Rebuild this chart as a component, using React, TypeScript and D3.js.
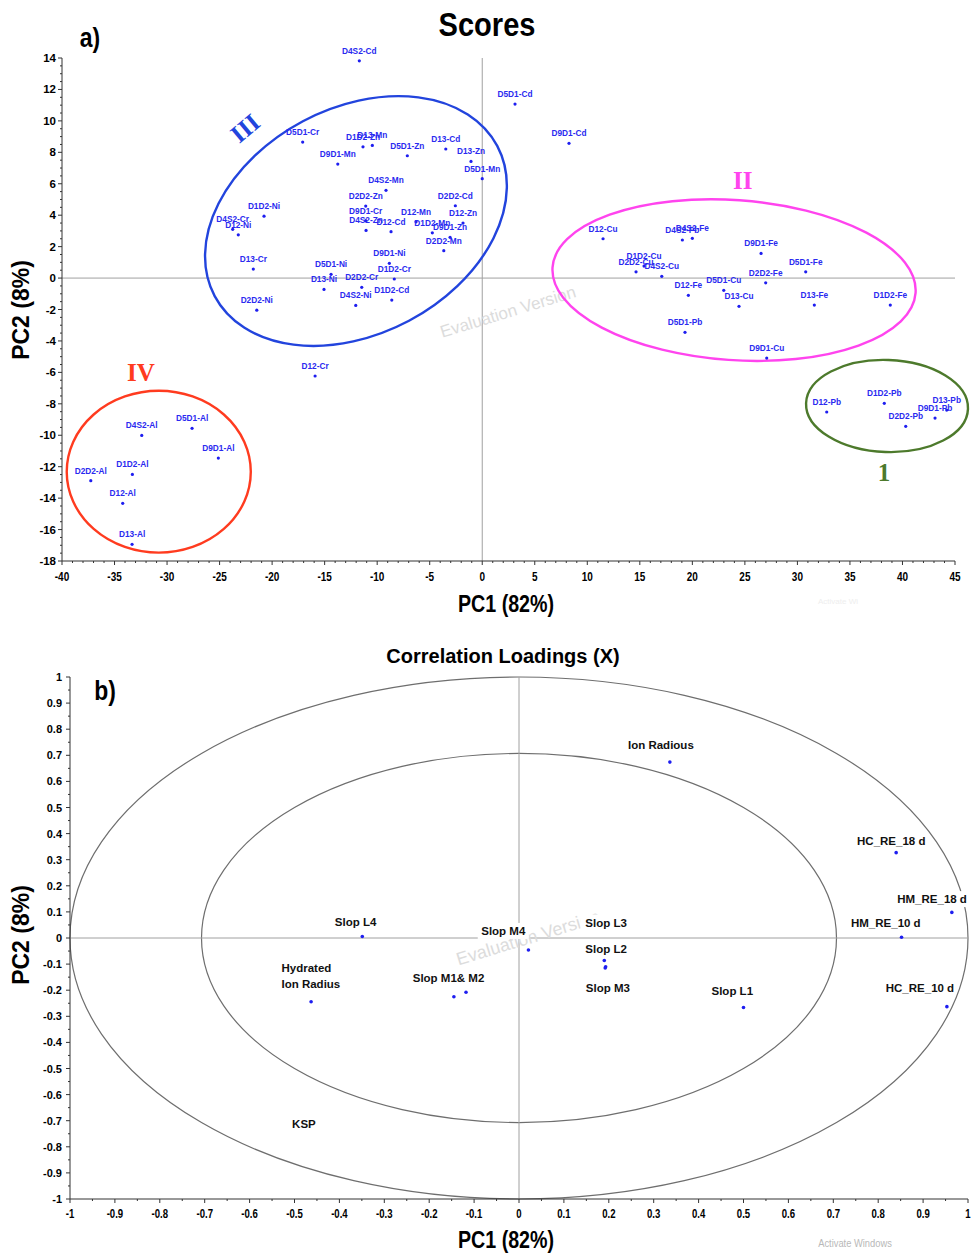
import React from 'react';
import * as d3 from 'd3';

// ---------- Panel a) Scores ----------
const scoreNames = [
  'D4S2-Cd', 'D5D1-Cd', 'D9D1-Cd', 'D5D1-Cr', 'D1D2-Zn', 'D13-Mn', 'D9D1-Mn', 'D5D1-Zn', 'D13-Cd', 'D13-Zn',
  'D5D1-Mn', 'D4S2-Mn', 'D2D2-Zn', 'D2D2-Cd', 'D9D1-Cr', 'D12-Mn', 'D12-Zn', 'D4S2-Zn', 'D12-Cd', 'D1D2-Mn',
  'D9D1-Zn', 'D2D2-Mn', 'D9D1-Ni', 'D1D2-Cr', 'D5D1-Ni', 'D13-Ni', 'D2D2-Cr', 'D1D2-Cd', 'D4S2-Ni', 'D2D2-Ni',
  'D13-Cr', 'D1D2-Ni', 'D4S2-Cr', 'D12-Ni', 'D12-Cr',
  'D12-Cu', 'D4S2-Pb', 'D4S2-Fe', 'D9D1-Fe', 'D1D2-Cu', 'D2D2-Cu', 'D4S2-Cu', 'D5D1-Fe', 'D2D2-Fe', 'D12-Fe',
  'D5D1-Cu', 'D13-Cu', 'D13-Fe', 'D1D2-Fe', 'D5D1-Pb', 'D9D1-Cu',
  'D12-Pb', 'D1D2-Pb', 'D2D2-Pb', 'D9D1-Pb', 'D13-Pb',
  'D4S2-Al', 'D5D1-Al', 'D9D1-Al', 'D2D2-Al', 'D1D2-Al', 'D12-Al', 'D13-Al',
];
const scorePC1 = [
  -11.7, 3.12, 8.26, -17.09, -11.35, -10.46, -13.75, -7.13, -3.47, -1.07,
  0.0, -9.16, -11.09, -2.56, -11.09, -6.3, -1.83, -11.06, -8.68, -4.75,
  -3.06, -3.66, -8.84, -8.37, -14.39, -15.06, -11.47, -8.61, -12.04, -21.46,
  -21.79, -20.77, -23.75, -23.22, -15.91,
  11.5, 19.05, 20.0, 26.54, 15.4, 14.64, 17.09, 30.79, 26.98, 19.62,
  22.99, 24.44, 31.61, 38.84, 19.3, 27.08,
  32.79, 38.27, 40.31, 43.1, 44.21,
  -32.41, -27.62, -25.12, -37.26, -33.3, -34.22, -33.33,
];
const scorePC2 = [
  13.82, 11.07, 8.57, 8.65, 8.35, 8.44, 7.25, 7.78, 8.21, 7.42,
  6.32, 5.58, 4.58, 4.6, 3.65, 3.58, 3.5, 3.03, 2.95, 2.88,
  2.59, 1.74, 0.94, -0.06, 0.24, -0.72, -0.59, -1.4, -1.74, -2.04,
  0.57, 3.94, 3.1, 2.75, -6.23,
  2.5, 2.42, 2.53, 1.57, 0.76, 0.4, 0.11, 0.4, -0.3, -1.1,
  -0.78, -1.8, -1.72, -1.72, -3.45, -5.09,
  -8.52, -7.97, -9.43, -8.91, -8.4,
  -10.01, -9.56, -11.45, -12.89, -12.49, -14.33, -16.94,
];

// cluster ellipses: centre in data units, radii in data units, rotation in degrees
const clusterNames = ['III', 'II', '1', 'IV'];
const clusterColors = ['#2244dd', '#ff44ee', '#4d7a2c', '#ff3b1f'];
const clusterCX = [-12.02, 23.97, 38.53, -30.79];
const clusterCY = [3.63, -0.13, -8.14, -12.32];
const clusterRX = [15.23, 17.32, 7.71, 8.76];
const clusterRY = [7.19, 5.09, 2.93, 5.15];
const clusterAngle = [-28, 4, 2, 0];
const clusterTextX = [-22.58, 24.8, 38.23, -32.48];
const clusterTextY = [9.54, 6.23, -12.34, -5.98];
const clusterTextAngle = [-40, 0, 0, 0];

const xTicksA = d3.range(-40, 46, 5);
const xMinorA = d3.range(-40, 45.1, 1);
const yTicksA = d3.range(-18, 15, 2);
const yMinorA = d3.range(-18, 14.1, 0.5);

// ---------- Panel b) Correlation loadings ----------
const loadingNames = ['Ion Radious', 'HC_RE_18 d', 'HM_RE_18 d', 'HM_RE_10 d', 'HC_RE_10 d', 'Slop L1', 'Slop L4',
  'Slop M4', 'Slop L3', 'Slop L2', 'Slop M3', 'Slop M1', 'Slop M2', 'Hydrated Ion Radius'];
const loadingPC1 = [0.336, 0.84, 0.964, 0.852, 0.953, 0.5, -0.349, 0.021, 0.19, 0.192, 0.193, -0.145, -0.118, -0.463];
const loadingPC2 = [0.674, 0.327, 0.098, 0.003, -0.263, -0.266, 0.006, -0.046, -0.086, -0.115, -0.11, -0.225, -0.208, -0.244];

// annotation text placed in data coordinates
const loadingLabelText = ['Ion Radious', 'HC_RE_18 d', 'HM_RE_18 d', 'HM_RE_10 d', 'HC_RE_10 d', 'Slop L1', 'Slop L4',
  'Slop M4', 'Slop L3', 'Slop L2', 'Slop M3', 'Slop M1& M2', 'Hydrated', 'Ion Radius', 'KSP'];
const loadingLabelX = [0.316, 0.829, 0.92, 0.817, 0.893, 0.475, -0.364, -0.035, 0.194, 0.194, 0.198, -0.157, -0.529, -0.529, -0.479];
const loadingLabelY = [0.739, 0.373, 0.149, 0.059, -0.19, -0.203, 0.062, 0.027, 0.059, -0.043, -0.192, -0.154, -0.115, -0.175, -0.713];
const loadingLabelAnchor = ['middle', 'middle', 'middle', 'middle', 'middle', 'middle', 'middle', 'middle', 'middle', 'middle',
  'middle', 'middle', 'start', 'start', 'middle'];

const circleRadii = [1, Math.SQRT1_2];
const ticksB = d3.range(-10, 11, 1).map((v) => v / 10);
const minorB = d3.range(-20, 21, 1).map((v) => v / 20);

const FONT = 'Liberation Sans, Arial, Helvetica, sans-serif';
const SERIF = 'Liberation Serif, Times New Roman, serif';

function NText(props: any) {
  const { x, y, size, scale = 0.82, anchor = 'middle', fill = '#000', weight = 'bold', children, rotate = 0 } = props;
  return (
    <text
      transform={`translate(${x},${y}) rotate(${rotate}) scale(${scale},1)`}
      fontSize={size}
      fontFamily={FONT}
      fontWeight={weight}
      textAnchor={anchor}
      dominantBaseline="central"
      fill={fill}
    >
      {children}
    </text>
  );
}

const fmtB = (v: number) => {
  const r = Math.round(v * 10) / 10;
  return r === 0 ? '0' : String(r);
};

export default function App() {
  const xA = d3.scaleLinear().domain([-40, 45]).range([62, 955]);
  const yA = d3.scaleLinear().domain([-18, 14]).range([561, 58]);
  const xB = d3.scaleLinear().domain([-1, 1]).range([70, 968]);
  const yB = d3.scaleLinear().domain([-1, 1]).range([1199, 677]);
  const kxA = xA(1) - xA(0);
  const kyA = yA(0) - yA(1);
  const kxB = xB(1) - xB(0);
  const kyB = yB(0) - yB(1);

  const blue = '#1e1ef0';

  return (
    <div style={{ position: 'absolute', left: 0, top: 0 }}>
      <svg width={971} height={1253} style={{ display: 'block', background: '#fff' }}>
        <rect x={0} y={0} width={971} height={1253} fill="#fff" />

        {/* ================= Panel a ================= */}
        <NText x={90} y={37} size={27} scale={0.85}>a)</NText>
        <NText x={487} y={25} size={33} scale={0.88}>Scores</NText>

        {/* zero lines */}
        <line x1={xA(0)} x2={xA(0)} y1={yA(14)} y2={yA(-18)} stroke="#a0a0a0" strokeWidth={1} />
        <line x1={xA(-40)} x2={xA(45)} y1={yA(0)} y2={yA(0)} stroke="#a0a0a0" strokeWidth={1} />

        {/* watermark */}
        <text transform={`translate(${508},${312}) rotate(-17)`} fontSize={17} fontFamily={FONT} fill="#dcdcdc" textAnchor="middle" dominantBaseline="central">Evaluation Version</text>
        <text x={838} y={604} fontSize={8} fontFamily={FONT} fill="#eeeeee" textAnchor="middle">Activate Wi</text>

        {/* axes */}
        <line x1={xA(-40)} x2={xA(-40)} y1={yA(14)} y2={yA(-18)} stroke="#333" strokeWidth={1} />
        <line x1={xA(-40)} x2={xA(45)} y1={yA(-18)} y2={yA(-18)} stroke="#333" strokeWidth={1} />
        {yMinorA.map((v) => (
          <line key={'yma' + v} x1={xA(-40)} x2={xA(-40) - (v % 2 === 0 ? 4 : 2)} y1={yA(v)} y2={yA(v)} stroke="#333" strokeWidth={1} />
        ))}
        {yTicksA.map((v) => (
          <text key={'yta' + v} x={56} y={yA(v)} fontSize={11.5} fontFamily={FONT} fontWeight="bold" textAnchor="end" dominantBaseline="central">{v}</text>
        ))}
        {xMinorA.map((v) => (
          <line key={'xma' + v} x1={xA(v)} x2={xA(v)} y1={yA(-18)} y2={yA(-18) + (v % 5 === 0 ? 4 : 2)} stroke="#333" strokeWidth={1} />
        ))}
        {xTicksA.map((v) => (
          <NText key={'xta' + v} x={xA(v)} y={577} size={12.5} scale={0.8}>{v}</NText>
        ))}
        <NText x={506} y={604} size={24} scale={0.82}>PC1 (82%)</NText>
        <text transform={`translate(${21},${310}) rotate(-90)`} fontSize={23} fontFamily={FONT} fontWeight="bold" textAnchor="middle" dominantBaseline="central">PC2 (8%)</text>

        {/* cluster ellipses */}
        {clusterNames.map((n, i) => {
          const cx = xA(clusterCX[i]);
          const cy = yA(clusterCY[i]);
          return (
            <g key={'cl' + n}>
              <ellipse cx={cx} cy={cy} rx={clusterRX[i] * kxA} ry={clusterRY[i] * kyA}
                transform={`rotate(${clusterAngle[i]},${cx},${cy})`} fill="none" stroke={clusterColors[i]} strokeWidth={2.4} />
              <text transform={`translate(${xA(clusterTextX[i])},${yA(clusterTextY[i])}) rotate(${clusterTextAngle[i]})`}
                fontSize={25} fontFamily={SERIF} fontWeight="bold" fill={clusterColors[i]} textAnchor="middle" dominantBaseline="central">{n}</text>
            </g>
          );
        })}

        {/* score points */}
        {scoreNames.map((n, i) => (
          <g key={'sp' + n}>
            <circle cx={xA(scorePC1[i])} cy={yA(scorePC2[i])} r={1.6} fill={blue} />
            <text x={xA(scorePC1[i])} y={yA(scorePC2[i]) - 7} fontSize={8.3} fontFamily={FONT} fontWeight="bold" fill="#2a2af0" textAnchor="middle">{n}</text>
          </g>
        ))}

        {/* ================= Panel b ================= */}
        <NText x={105} y={690} size={27} scale={0.85}>b)</NText>
        <text x={503} y={656} fontSize={20} fontFamily={FONT} fontWeight="bold" textAnchor="middle" dominantBaseline="central">Correlation Loadings (X)</text>

        {circleRadii.map((r) => (
          <ellipse key={'cr' + r} cx={xB(0)} cy={yB(0)} rx={r * kxB} ry={r * kyB} fill="none" stroke="#6e6e6e" strokeWidth={1.2} />
        ))}
        <line x1={xB(0)} x2={xB(0)} y1={yB(1)} y2={yB(-1)} stroke="#a0a0a0" strokeWidth={1} />
        <line x1={xB(-1)} x2={xB(1)} y1={yB(0)} y2={yB(0)} stroke="#a0a0a0" strokeWidth={1} />

        <text transform={`translate(${528},${938}) rotate(-17)`} fontSize={18} fontFamily={FONT} fill="#dcdcdc" textAnchor="middle" dominantBaseline="central">Evaluation Version</text>

        {/* axes */}
        <line x1={xB(-1)} x2={xB(-1)} y1={yB(1)} y2={yB(-1)} stroke="#333" strokeWidth={1} />
        <line x1={xB(-1)} x2={xB(1)} y1={yB(-1)} y2={yB(-1)} stroke="#333" strokeWidth={1} />
        {minorB.map((v, i) => (
          <g key={'mb' + i}>
            <line x1={xB(-1)} x2={xB(-1) - (i % 2 === 0 ? 4 : 2)} y1={yB(v)} y2={yB(v)} stroke="#333" strokeWidth={1} />
            <line x1={xB(v)} x2={xB(v)} y1={yB(-1)} y2={yB(-1) + (i % 2 === 0 ? 4 : 2)} stroke="#333" strokeWidth={1} />
          </g>
        ))}
        {ticksB.map((v) => (
          <g key={'tb' + v}>
            <text x={62} y={yB(v)} fontSize={11} fontFamily={FONT} fontWeight="bold" textAnchor="end" dominantBaseline="central">{fmtB(v)}</text>
            <NText x={xB(v)} y={1214} size={12} scale={0.8}>{fmtB(v)}</NText>
          </g>
        ))}
        <NText x={506} y={1240} size={24} scale={0.82}>PC1 (82%)</NText>
        <text transform={`translate(${21},${935}) rotate(-90)`} fontSize={23} fontFamily={FONT} fontWeight="bold" textAnchor="middle" dominantBaseline="central">PC2 (8%)</text>
        <NText x={855} y={1243} size={11} scale={0.85} weight="normal" fill="#b8b8b8">Activate Windows</NText>

        {/* label backgrounds + labels */}
        {loadingLabelText.map((t, i) => {
          const w = t.length * 11.5 * 0.56 + 6;
          const lx = xB(loadingLabelX[i]);
          const ly = yB(loadingLabelY[i]);
          const rx = loadingLabelAnchor[i] === 'start' ? lx - 3 : lx - w / 2;
          return (
            <g key={'lb' + i}>
              <rect x={rx} y={ly - 8} width={w} height={16} fill="#fff" />
              <text x={lx} y={ly} fontSize={11.5} fontFamily={FONT} fontWeight="bold" fill="#111" textAnchor={loadingLabelAnchor[i]} dominantBaseline="central">{t}</text>
            </g>
          );
        })}
        {loadingNames.map((n, i) => (
          <circle key={'ld' + n} cx={xB(loadingPC1[i])} cy={yB(loadingPC2[i])} r={1.8} fill={blue} />
        ))}
      </svg>
    </div>
  );
}
